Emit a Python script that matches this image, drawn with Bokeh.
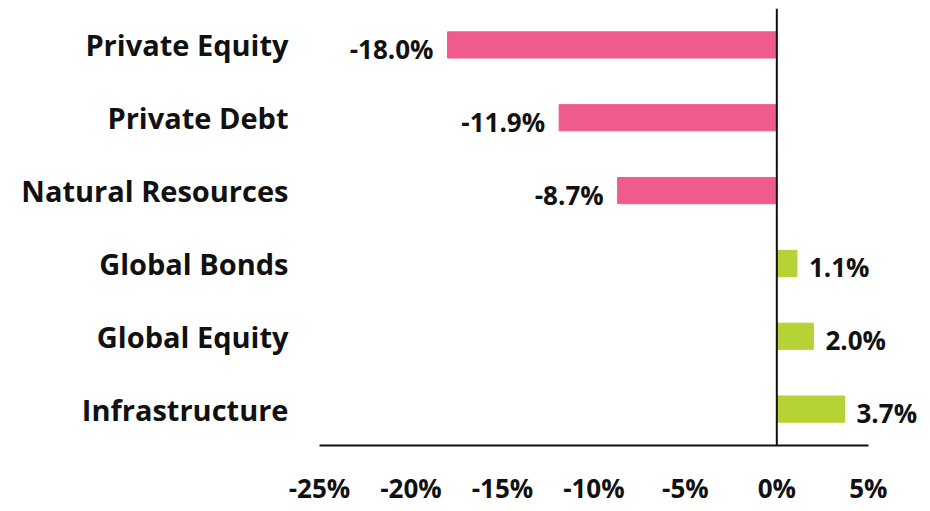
from bokeh.plotting import figure
from bokeh.models import ColumnDataSource, Range1d, FactorRange, Span, FixedTicker, LabelSet
from bokeh.core.properties import value
from bokeh.embed import file_html
from bokeh.resources import INLINE

categories = ["Private Equity", "Private Debt", "Natural Resources",
              "Global Bonds", "Global Equity", "Infrastructure"]
returns = [-18.0, -11.9, -8.7, 1.1, 2.0, 3.7]
x_ticks = [-25, -20, -15, -10, -5, 0, 5]
x_tick_labels = ["-25%", "-20%", "-15%", "-10%", "-5%", "0%", "5%"]

PINK = "#EF5B8A"
GREEN = "#B5D334"
FONT = "Open Sans"

colors = [PINK if v < 0 else GREEN for v in returns]
labels = [f"{v:.1f}%" for v in returns]
aligns = ["right" if v < 0 else "left" for v in returns]
offsets = [-14 if v < 0 else 12 for v in returns]

src = ColumnDataSource(dict(cat=categories, val=returns, color=colors,
                            label=labels, align=aligns, xoff=offsets))

X_MIN, X_MAX = -25, 7.8
PX_PER_UNIT = 18.28

p = figure(y_range=FactorRange(*reversed(categories), range_padding=0),
           x_range=Range1d(X_MIN, X_MAX),
           frame_width=int(round((X_MAX - X_MIN) * PX_PER_UNIT)), frame_height=437,
           min_border_left=319, min_border_right=0,
           min_border_top=8, min_border_bottom=38,
           output_backend="svg", toolbar_location=None)

p.hbar(y="cat", left=0, right="val", height=0.36, color="color", source=src)

p.add_layout(LabelSet(x="val", y="cat", text="label", text_align="align",
                      x_offset="xoff", y_offset=-4, text_baseline="middle",
                      text_font=value(FONT), text_font_style="bold",
                      text_font_size="26px", text_color="#111111",
                      source=src))

p.add_layout(Span(location=0, dimension="height", line_color="#111111",
                  line_width=2))

p.xgrid.visible = False
p.ygrid.visible = False
p.outline_line_color = None

xa = p.xaxis[0]
xa.ticker = FixedTicker(ticks=x_ticks)
xa.bounds = (x_ticks[0], x_ticks[-1])
xa.major_label_overrides = {t: l for t, l in zip(x_ticks, x_tick_labels)}
xa.major_tick_line_color = None
xa.minor_tick_line_color = None
xa.axis_line_color = "#111111"
xa.axis_line_width = 2
xa.major_label_standoff = 18
xa.major_label_text_font = FONT
xa.major_label_text_font_style = "bold"
xa.major_label_text_font_size = "26px"
xa.major_label_text_color = "#111111"

ya = p.yaxis[0]
ya.axis_line_color = None
ya.major_tick_line_color = None
ya.minor_tick_line_color = None
ya.major_label_standoff = 25
ya.major_label_text_font = FONT
ya.major_label_text_font_style = "bold"
ya.major_label_text_font_size = "29px"
ya.major_label_text_color = "#111111"

open("out.html", "w").write(file_html(p, INLINE))
